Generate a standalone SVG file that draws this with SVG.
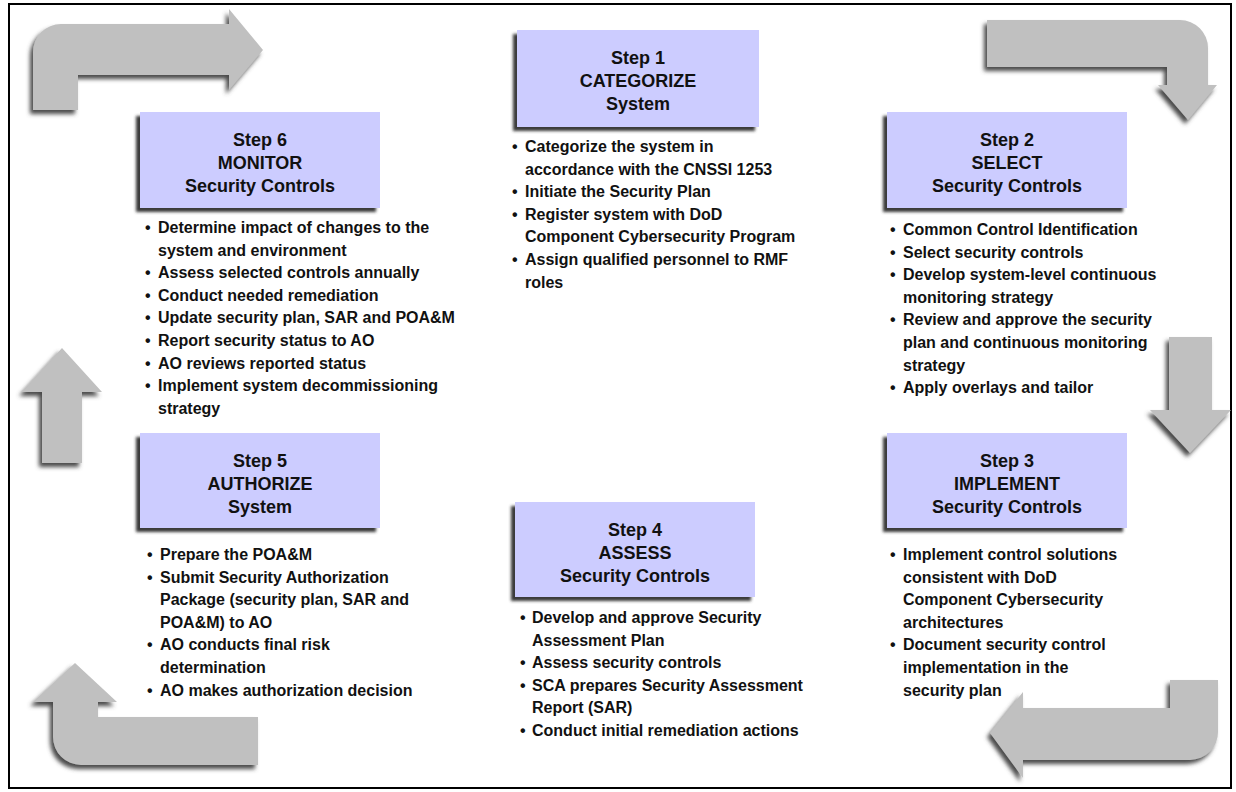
<svg xmlns="http://www.w3.org/2000/svg" width="1236" height="792" viewBox="0 0 1236 792">
<defs>
<filter id="bsh" x="-10%" y="-10%" width="120%" height="130%">
<feGaussianBlur in="SourceAlpha" stdDeviation="1.5" result="b"/>
<feOffset in="b" dx="-4" dy="4" result="o"/>
<feFlood flood-color="#3a3a3a"/>
<feComposite in2="o" operator="in" result="s"/>
<feMerge><feMergeNode in="s"/><feMergeNode in="SourceGraphic"/></feMerge>
</filter>
<filter id="ash" x="-15%" y="-15%" width="130%" height="140%">
<feGaussianBlur in="SourceAlpha" stdDeviation="2" result="b"/>
<feOffset in="b" dx="-3" dy="4" result="o"/>
<feFlood flood-color="#4a4a4a"/>
<feComposite in2="o" operator="in" result="s"/>
<feMerge><feMergeNode in="s"/><feMergeNode in="SourceGraphic"/></feMerge>
</filter>
</defs>
<style>
.box{fill:#ccccff;filter:url(#bsh)}
.arrow{fill:#c0c0c0;filter:url(#ash)}
.hd{font-family:"Liberation Sans",Arial,sans-serif;font-size:18px;font-weight:bold;text-anchor:middle;fill:#111}
.bl{font-family:"Liberation Sans",Arial,sans-serif;font-size:16px;font-weight:bold;fill:#111}
</style>
<rect x="0" y="0" width="1236" height="792" fill="#ffffff"/>
<rect x="9" y="4" width="1222" height="784" fill="#ffffff" stroke="#000" stroke-width="2"/>

<g id="connectors">
<path class="arrow" d="M33,110 L33,52 A28,28 0 0 1 61,24 L229,24 L229,9 L263,50 L229,90 L229,75 L78,75 L78,110 Z"/>
<path class="arrow" d="M987,20 L1180,20 A28,28 0 0 1 1208,48 L1208,85 L1217,85 L1188,120 L1158,85 L1167,85 L1167,67 L987,67 Z"/>
<path class="arrow" d="M1169,337 L1212,337 L1212,410 L1231,410 L1190,453 L1150,410 L1169,410 Z"/>
<path class="arrow" d="M1218,680 L1218,732 A28,28 0 0 1 1190,760 L1023,760 L1023,778 L990,733 L1023,692 L1023,708 L1170,708 L1170,680 Z"/>
<path class="arrow" d="M75,663 L117,702 L98,702 L98,717 L258,717 L258,765 L81,765 A28,28 0 0 1 53,737 L53,702 L33,702 Z"/>
<path class="arrow" d="M62,348 L102,392 L82,392 L82,463 L42,463 L42,392 L22,392 Z"/>
</g>

<g id="step1">
<rect class="box" x="517" y="30" width="242" height="97"/>
<text class="hd" x="638" y="64">Step 1</text>
<text class="hd" x="638" y="87">CATEGORIZE</text>
<text class="hd" x="638" y="110">System</text>
<text class="bl" x="512" y="152">•</text><text class="bl" x="525" y="152">Categorize the system in</text>
<text class="bl" x="525" y="174.6">accordance with the CNSSI 1253</text>
<text class="bl" x="512" y="197.2">•</text><text class="bl" x="525" y="197.2">Initiate the Security Plan</text>
<text class="bl" x="512" y="219.8">•</text><text class="bl" x="525" y="219.8">Register system with DoD</text>
<text class="bl" x="525" y="242.4">Component Cybersecurity Program</text>
<text class="bl" x="512" y="265">•</text><text class="bl" x="525" y="265">Assign qualified personnel to RMF</text>
<text class="bl" x="525" y="287.6">roles</text>
</g>

<g id="step2">
<rect class="box" x="887" y="112" width="240" height="96"/>
<text class="hd" x="1007" y="146">Step 2</text>
<text class="hd" x="1007" y="169">SELECT</text>
<text class="hd" x="1007" y="192">Security Controls</text>
<text class="bl" x="890" y="235">•</text><text class="bl" x="903" y="235">Common Control Identification</text>
<text class="bl" x="890" y="257.6">•</text><text class="bl" x="903" y="257.6">Select security controls</text>
<text class="bl" x="890" y="280.2">•</text><text class="bl" x="903" y="280.2">Develop system-level continuous</text>
<text class="bl" x="903" y="302.8">monitoring strategy</text>
<text class="bl" x="890" y="325.4">•</text><text class="bl" x="903" y="325.4">Review and approve the security</text>
<text class="bl" x="903" y="348">plan and continuous monitoring</text>
<text class="bl" x="903" y="370.6">strategy</text>
<text class="bl" x="890" y="393.2">•</text><text class="bl" x="903" y="393.2">Apply overlays and tailor</text>
</g>

<g id="step3">
<rect class="box" x="887" y="433" width="240" height="95"/>
<text class="hd" x="1007" y="467">Step 3</text>
<text class="hd" x="1007" y="490">IMPLEMENT</text>
<text class="hd" x="1007" y="513">Security Controls</text>
<text class="bl" x="890" y="560">•</text><text class="bl" x="903" y="560">Implement control solutions</text>
<text class="bl" x="903" y="582.6">consistent with DoD</text>
<text class="bl" x="903" y="605.2">Component Cybersecurity</text>
<text class="bl" x="903" y="627.8">architectures</text>
<text class="bl" x="890" y="650.4">•</text><text class="bl" x="903" y="650.4">Document security control</text>
<text class="bl" x="903" y="673">implementation in the</text>
<text class="bl" x="903" y="695.6">security plan</text>
</g>

<g id="step4">
<rect class="box" x="515" y="502" width="240" height="95"/>
<text class="hd" x="635" y="536">Step 4</text>
<text class="hd" x="635" y="559">ASSESS</text>
<text class="hd" x="635" y="582">Security Controls</text>
<text class="bl" x="520" y="623">•</text><text class="bl" x="532" y="623">Develop and approve Security</text>
<text class="bl" x="532" y="645.6">Assessment Plan</text>
<text class="bl" x="520" y="668.2">•</text><text class="bl" x="532" y="668.2">Assess security controls</text>
<text class="bl" x="520" y="690.8">•</text><text class="bl" x="532" y="690.8">SCA prepares Security Assessment</text>
<text class="bl" x="532" y="713.4">Report (SAR)</text>
<text class="bl" x="520" y="736">•</text><text class="bl" x="532" y="736">Conduct initial remediation actions</text>
</g>

<g id="step5">
<rect class="box" x="140" y="433" width="240" height="95"/>
<text class="hd" x="260" y="467">Step 5</text>
<text class="hd" x="260" y="490">AUTHORIZE</text>
<text class="hd" x="260" y="513">System</text>
<text class="bl" x="147" y="560">•</text><text class="bl" x="160" y="560">Prepare the POA&amp;M</text>
<text class="bl" x="147" y="582.6">•</text><text class="bl" x="160" y="582.6">Submit Security Authorization</text>
<text class="bl" x="160" y="605.2">Package (security plan, SAR and</text>
<text class="bl" x="160" y="627.8">POA&amp;M) to AO</text>
<text class="bl" x="147" y="650.4">•</text><text class="bl" x="160" y="650.4">AO conducts final risk</text>
<text class="bl" x="160" y="673">determination</text>
<text class="bl" x="147" y="695.6">•</text><text class="bl" x="160" y="695.6">AO makes authorization decision</text>
</g>

<g id="step6">
<rect class="box" x="140" y="112" width="240" height="96"/>
<text class="hd" x="260" y="146">Step 6</text>
<text class="hd" x="260" y="169">MONITOR</text>
<text class="hd" x="260" y="192">Security Controls</text>
<text class="bl" x="145" y="233">•</text><text class="bl" x="158" y="233">Determine impact of changes to the</text>
<text class="bl" x="158" y="255.6">system and environment</text>
<text class="bl" x="145" y="278.2">•</text><text class="bl" x="158" y="278.2">Assess selected controls annually</text>
<text class="bl" x="145" y="300.8">•</text><text class="bl" x="158" y="300.8">Conduct needed remediation</text>
<text class="bl" x="145" y="323.4">•</text><text class="bl" x="158" y="323.4">Update security plan, SAR and POA&amp;M</text>
<text class="bl" x="145" y="346">•</text><text class="bl" x="158" y="346">Report security status to AO</text>
<text class="bl" x="145" y="368.6">•</text><text class="bl" x="158" y="368.6">AO reviews reported status</text>
<text class="bl" x="145" y="391.2">•</text><text class="bl" x="158" y="391.2">Implement system decommissioning</text>
<text class="bl" x="158" y="413.8">strategy</text>
</g>
</svg>
